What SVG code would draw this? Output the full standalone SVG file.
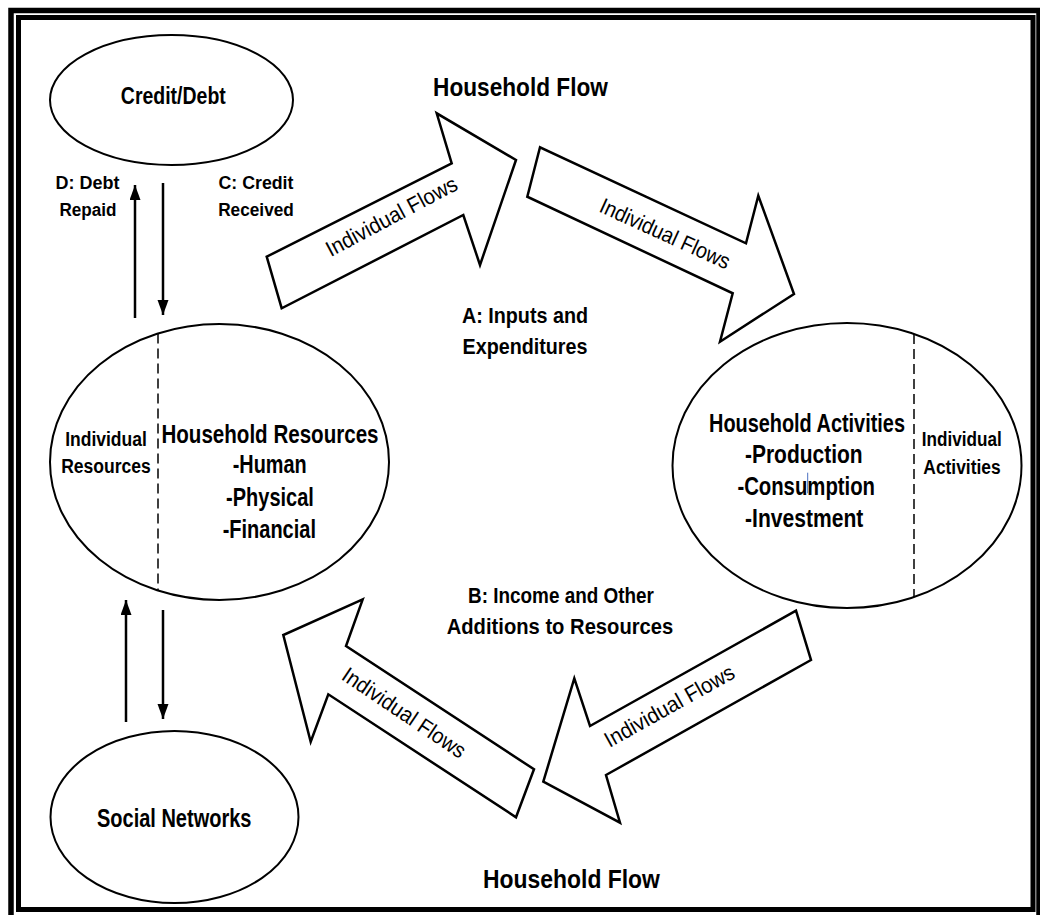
<svg xmlns="http://www.w3.org/2000/svg" width="1040" height="915" viewBox="0 0 1040 915">
<defs>
<style>
text{font-family:'Liberation Sans',Arial,sans-serif;fill:#000;text-anchor:middle}
.b{font-weight:bold}
.r{font-weight:normal}
.ell{fill:#fff;stroke:#000;stroke-width:2}
.blk{fill:#fff;stroke:#000;stroke-width:2.5;stroke-linejoin:miter}
.dash{stroke:#000;stroke-width:1.5;stroke-dasharray:10 5;fill:none}
.conn{stroke:#000;stroke-width:2.5;fill:none}
</style>
<marker id="ah" markerUnits="userSpaceOnUse" markerWidth="16" markerHeight="12" refX="15" refY="5.5" orient="auto">
<path d="M0,0 L15,5.5 L0,11 z" fill="#000"/>
</marker>
</defs>
<rect width="1040" height="915" fill="#fff"/>
<g id="frame">
<rect x="11" y="10.5" width="1028" height="910" fill="none" stroke="#000" stroke-width="5.5"/>
<rect x="18.5" y="17.5" width="1014.5" height="892" fill="none" stroke="#000" stroke-width="5"/>
</g>
<g id="connectors">
<line class="conn" x1="135" y1="318" x2="135" y2="185" marker-end="url(#ah)"/>
<line class="conn" x1="163" y1="183" x2="163" y2="315" marker-end="url(#ah)"/>
<line class="conn" x1="126" y1="722" x2="126" y2="600" marker-end="url(#ah)"/>
<line class="conn" x1="163" y1="610" x2="163" y2="719" marker-end="url(#ah)"/>
<polygon class="blk" points="281.7,308.3 266.7,256.7 451.7,163.3 436.7,113.3 516,160 480,265 463.3,215"/>
<polygon class="blk" points="540,147.3 527.3,196.7 732.7,293.3 720,341.7 794,294 758.3,195.7 746,243.3"/>
<polygon class="blk" points="796,610.7 811,660 606,775 620,822.7 543.3,781.7 574.3,678.3 590,726"/>
<polygon class="blk" points="362.7,599.3 283.3,635 310.7,741.7 328.3,694.3 516,817.3 534,769.3 346,646"/>
<text class="r" font-size="22" transform="translate(395 223) rotate(-28) scale(0.93 1)">Individual Flows</text>
<text class="r" font-size="22" transform="translate(662 240.5) rotate(24.5) scale(0.9 1)">Individual Flows</text>
<text class="r" font-size="22" transform="translate(673 712.5) rotate(-29.2) scale(0.93 1)">Individual Flows</text>
<text class="r" font-size="22" transform="translate(400 719) rotate(34) scale(0.92 1)">Individual Flows</text>
</g>
<g id="labels">
<text class="b" font-size="19" transform="translate(87.5 189.3) scale(0.948 1)">D: Debt</text>
<text class="b" font-size="19" transform="translate(88 215.5) scale(0.9 1)">Repaid</text>
<text class="b" font-size="19" transform="translate(256 189.3) scale(0.935 1)">C: Credit</text>
<text class="b" font-size="19" transform="translate(256 215.5) scale(0.908 1)">Received</text>
<text class="b" font-size="26" transform="translate(520.5 96) scale(0.871 1)">Household Flow</text>
<text class="b" font-size="22" transform="translate(525 322.7) scale(0.898 1)">A: Inputs and</text>
<text class="b" font-size="22" transform="translate(525 354) scale(0.897 1)">Expenditures</text>
<text class="b" font-size="22" transform="translate(561 602.7) scale(0.86 1)">B: Income and Other</text>
<text class="b" font-size="22" transform="translate(560 634) scale(0.918 1)">Additions to Resources</text>
<text class="b" font-size="26" transform="translate(571.5 888) scale(0.881 1)">Household Flow</text>
</g>
<g id="credit-debt">
<ellipse class="ell" cx="171.5" cy="100" rx="121.5" ry="65"/>
<text class="b" font-size="23" transform="translate(173.3 104) scale(0.847 1)">Credit/Debt</text>
</g>
<g id="household-resources">
<ellipse class="ell" cx="219.5" cy="462" rx="169.5" ry="138"/>
<line class="dash" x1="158" y1="333.4" x2="158" y2="590.6"/>
<text class="b" font-size="20" transform="translate(106 445.7) scale(0.875 1)">Individual</text>
<text class="b" font-size="20" transform="translate(106 473.3) scale(0.877 1)">Resources</text>
<text class="b" font-size="25" transform="translate(270 442.7) scale(0.823 1)">Household Resources</text>
<text class="b" font-size="25" transform="translate(269.7 473.3) scale(0.795 1)">-Human</text>
<text class="b" font-size="25" transform="translate(270 505.5) scale(0.8 1)">-Physical</text>
<text class="b" font-size="25" transform="translate(269.3 538.3) scale(0.8 1)">-Financial</text>
</g>
<g id="household-activities">
<ellipse class="ell" cx="847" cy="465.5" rx="174.5" ry="142.5"/>
<line class="dash" x1="914" y1="333.9" x2="914" y2="597.1"/>
<text class="b" font-size="25" transform="translate(807 431.7) scale(0.796 1)">Household Activities</text>
<text class="b" font-size="25" transform="translate(803.8 462.7) scale(0.839 1)">-Production</text>
<text class="b" font-size="25" transform="translate(806.2 495) scale(0.813 1)">-Consumption</text>
<text class="b" font-size="25" transform="translate(804.2 526.7) scale(0.843 1)">-Investment</text>
<line x1="807.7" y1="472.7" x2="807.7" y2="493.3" stroke="#4a6fc0" stroke-width="1"/>
<text class="b" font-size="20" transform="translate(961.7 446) scale(0.857 1)">Individual</text>
<text class="b" font-size="20" transform="translate(962 474) scale(0.87 1)">Activities</text>
</g>
<g id="social-networks">
<ellipse class="ell" cx="174.5" cy="817" rx="124" ry="86"/>
<text class="b" font-size="25" transform="translate(174.2 826.7) scale(0.8 1)">Social Networks</text>
</g>
</svg>
